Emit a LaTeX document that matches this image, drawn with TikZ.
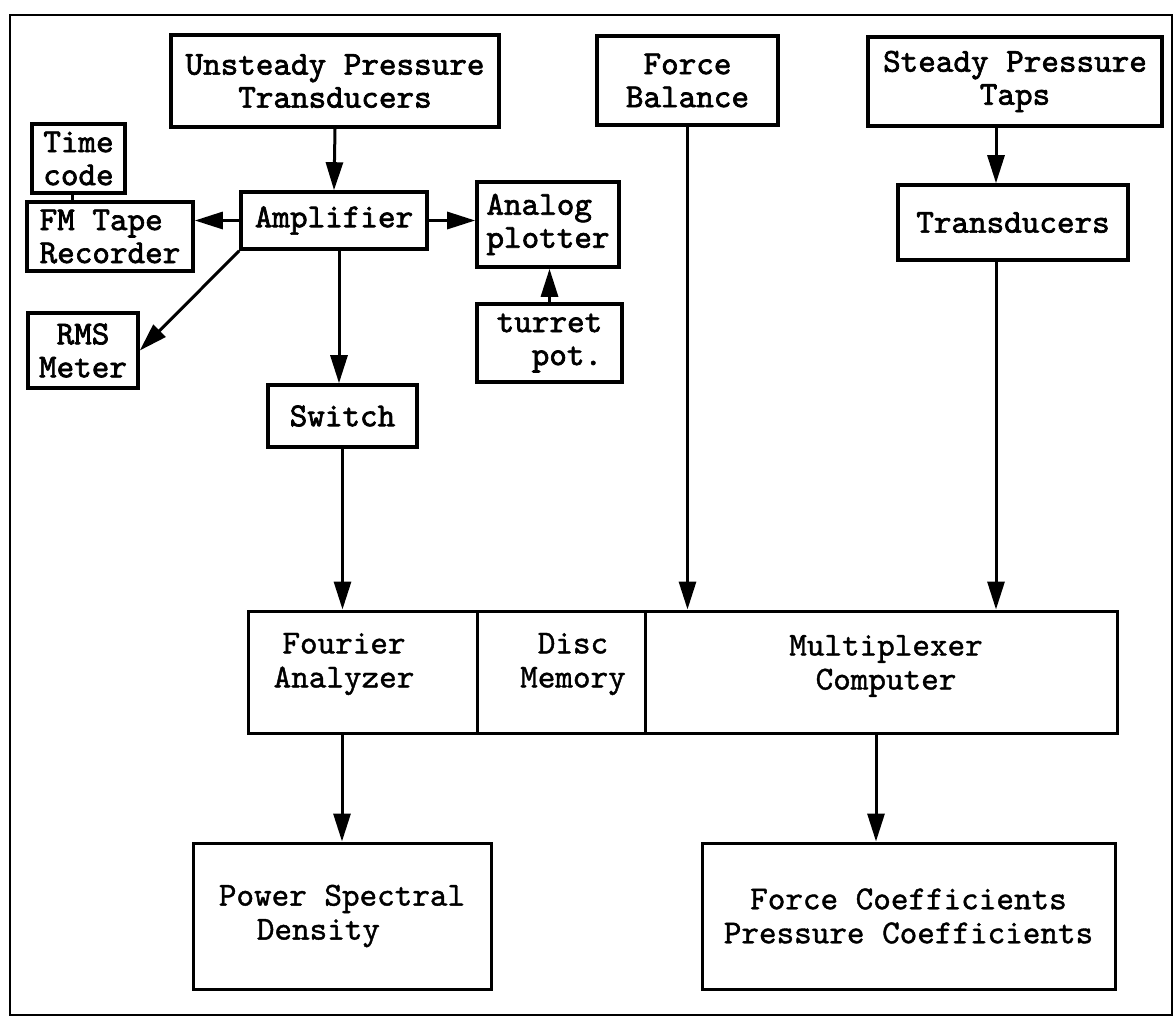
\documentclass[tikz,border=0pt]{standalone}
\usepackage{fontspec}
\newfontfamily\twheavy[FakeBold=2]{lmmono10-regular.otf}
\newfontfamily\twmed[FakeBold=1.2]{lmmono10-regular.otf}
\usetikzlibrary{arrows.meta}
\begin{document}
\begin{tikzpicture}[x=1pt,y=-1pt,
  box/.style={draw, line width=3.6pt, inner sep=0pt, align=center,
    font=\twheavy\fontsize{33.5}{33}\selectfont},
  lbox/.style={box, align=left},
  cell/.style={draw, line width=3pt, inner sep=0pt},
  txt/.style={inner sep=0pt, align=center, font=\twmed\fontsize{33.5}{34}\selectfont},
  bigbox/.style={draw, line width=3pt, inner sep=0pt, align=center,
    font=\twmed\fontsize{33.5}{34}\selectfont},
  conn/.style={line width=3pt, -{Triangle[length=28pt,width=17pt]}},
  link/.style={line width=3pt},
]
\useasboundingbox (0,0) rectangle (1175,1029);
% outer frame
\draw[line width=2.8pt] (10,15) rectangle (1172,1015);

% top row
\node[box, minimum width=328pt, minimum height=92pt] (upt) at (335,81) {Unsteady Pressure\\Transducers};
\node[box, minimum width=181pt, minimum height=89pt] (fb) at (687.5,80.5) {Force\\Balance};
\node[box, minimum width=294pt, minimum height=89pt] (spt) at (1015,81.5) {Steady Pressure\\Taps};

% second row
\node[lbox, minimum width=93pt, minimum height=69pt] (tc) at (78.5,158.5) {Time\\code};
\node[lbox, minimum width=166pt, minimum height=69pt] (fm) at (110,236.5) {FM Tape\\Recorder};
\node[box, minimum width=186pt, minimum height=57pt] (amp) at (334,220.5) {Amplifier};
\node[lbox, minimum width=142pt, minimum height=85pt] (ap) at (548,224.5) {Analog\\plotter};
\node[box, minimum width=230pt, minimum height=75pt] (tr) at (1013,222.5) {Transducers};

% third row
\node[box, minimum width=110pt, minimum height=75pt] (rms) at (83,350.5) {RMS\\Meter};
\node[lbox, minimum width=145pt, minimum height=78pt] (tp) at (549.5,343) {turret\\\hspace*{35pt}pot.};
\node[box, minimum width=149pt, minimum height=62pt] (sw) at (342.5,416) {Switch};

% combined processing box
\node[cell, minimum width=229pt, minimum height=122pt] (fa) at (362.5,672) {};
\node[cell, minimum width=168pt, minimum height=122pt] (dm) at (561,672) {};
\node[cell, minimum width=472pt, minimum height=122pt] (mc) at (881,672) {};
\node[txt] (fat) at (344,664) {Fourier\\Analyzer};
\node[txt] (dmt) at (573,664) {Disc\\Memory};
\node[txt] (mct) at (886,666) {Multiplexer\\Computer};

% outputs
\node[bigbox, align=left, minimum width=298pt, minimum height=146pt] (psd) at (342,916) {Power Spectral\\\hspace*{38pt}Density};
\node[bigbox, minimum width=413pt, minimum height=146pt] (fc) at (908.5,916) {Force Coefficients\\Pressure Coefficients};

% connectors
\draw[conn] (upt.south) -- (amp.north);
\draw[conn] (amp.west) -- (amp.west -| fm.east);
\draw[conn] (amp.east) -- (amp.east -| ap.west);
\draw[conn] (tp.north) -- (tp.north |- ap.south);
\draw[conn] (amp.south west) -- (rms.east);
\draw[link] ([xshift=-6pt]tc.south) -- ([xshift=-6pt]tc.south |- fm.north);
\draw[conn] ([xshift=5pt]amp.south) -- ([xshift=5pt]amp.south |- sw.north);
\draw[conn] (sw.south) -- (sw.south |- fa.north);
\draw[conn] (fb.south) -- (fb.south |- mc.north);
\draw[conn] ([xshift=-17pt]tr.north |- spt.south) -- ([xshift=-17pt]tr.north);
\draw[conn] ([xshift=-17pt]tr.south) -- ([xshift=-17pt]tr.south |- mc.north);
\draw[conn] (psd.north |- fa.south) -- (psd.north);
\draw[conn] ([xshift=-5pt]mc.south) -- ([xshift=-5pt]mc.south |- fc.north);
\end{tikzpicture}
\end{document}
